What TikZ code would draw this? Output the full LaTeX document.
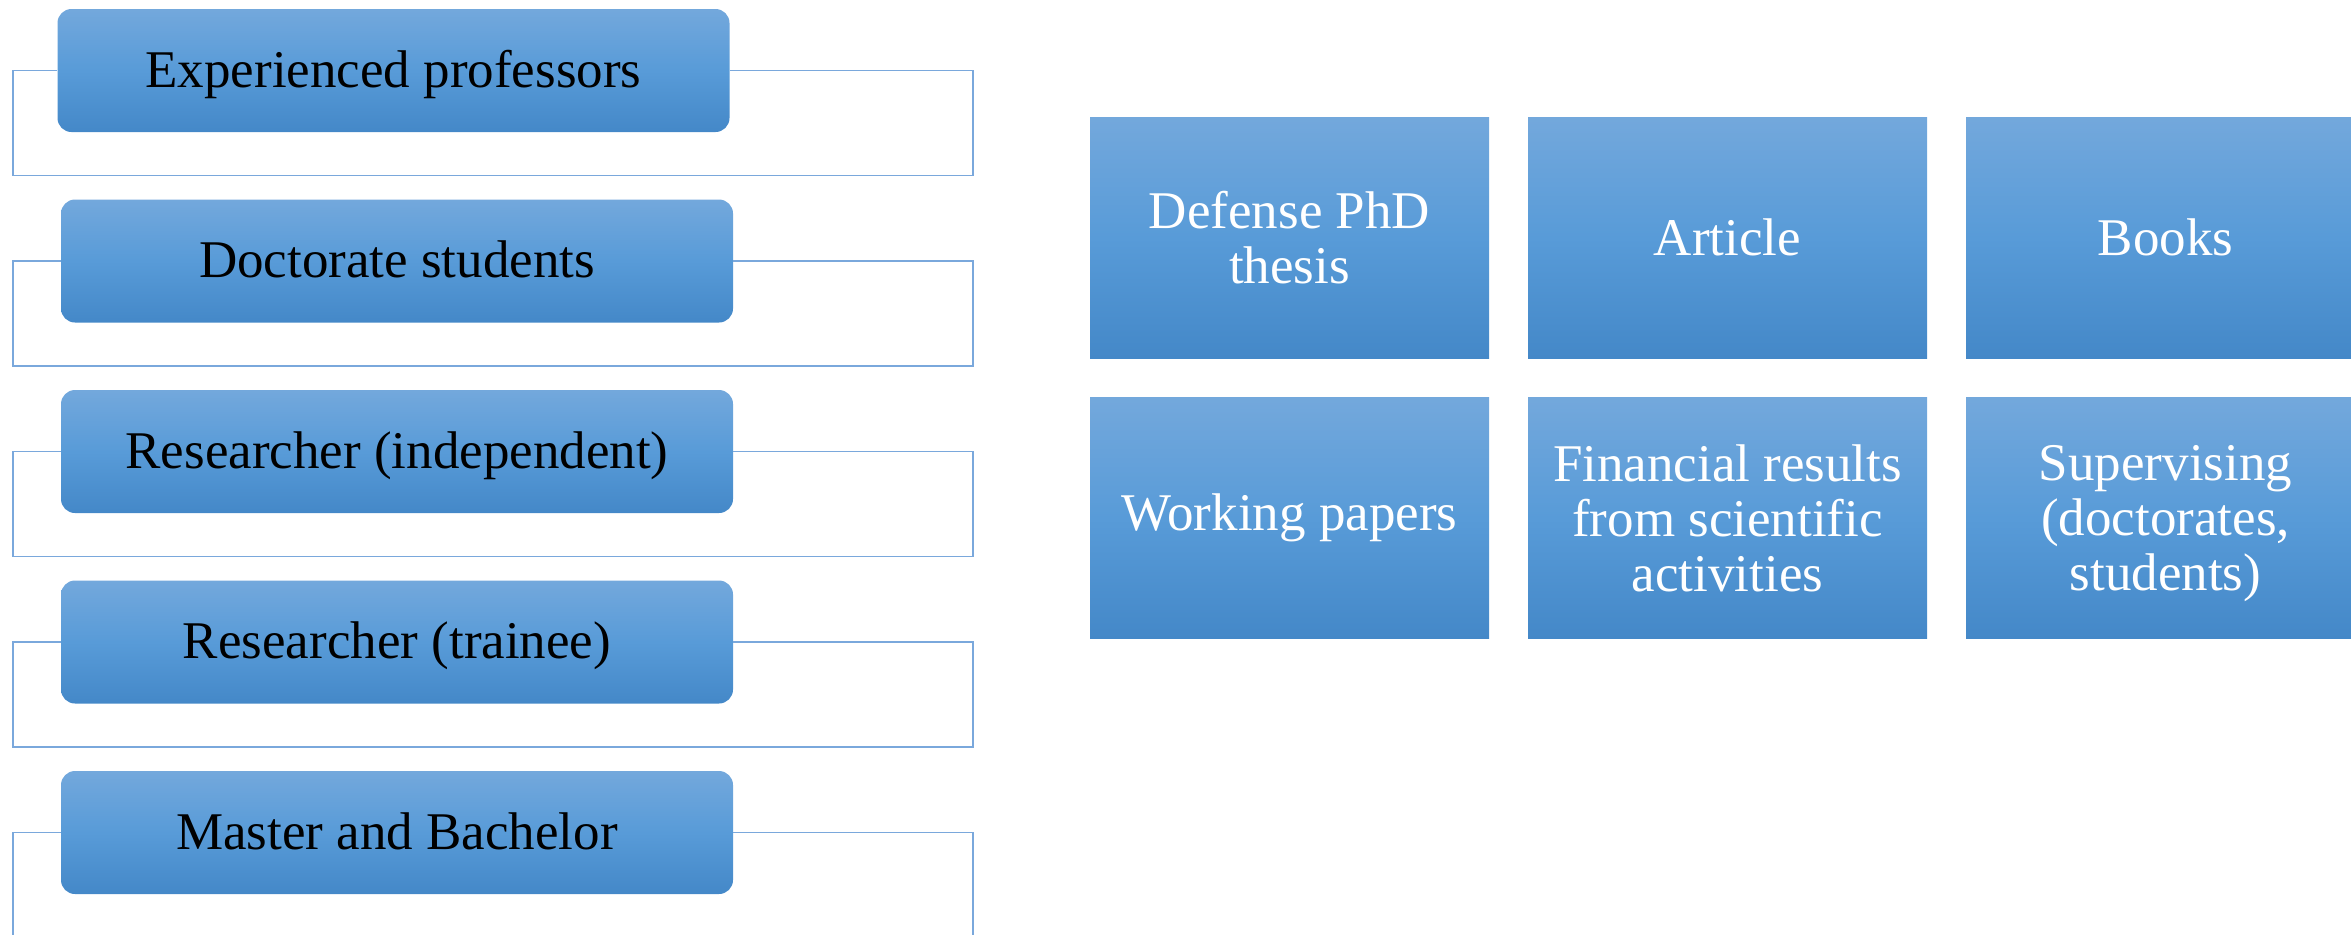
\documentclass[tikz,border=0pt]{standalone}
\usepackage{fontspec}
\setmainfont{Liberation Serif}
\definecolor{gtop}{RGB}{115,168,220}
\definecolor{gmid}{RGB}{88,155,216}
\definecolor{gbot}{RGB}{68,136,200}
\definecolor{lineblue}{RGB}{122,168,220}
\begin{document}
\begin{tikzpicture}[x=0.5pt,y=-0.5pt,
  person/.style={rounded corners=7pt, top color=gtop, bottom color=gbot, middle color=gmid,
    draw=none, minimum width=336pt, minimum height=61.5pt, inner sep=0pt,
    text height=20pt, text depth=3.5pt,
    font=\fontsize{26.5}{27.5}\selectfont, text=black},
  outbox/.style={top color=gtop, bottom color=gbot, middle color=gmid,
    draw=none, minimum width=199.5pt, minimum height=120.5pt, inner sep=0pt, align=center,
    font=\fontsize{26.5}{27.5}\selectfont, text=white},
  bracket/.style={draw=lineblue, line width=0.8pt}]
\useasboundingbox (0,0) rectangle (2351,934);
% left column
\node[person] (p1) at (393.5,70.5) {Experienced professors};
\node[person] (p2) at (397,261) {Doctorate students};
\node[person] (p3) at (397,451.5) {Researcher (independent)};
\node[person] (p4) at (397,642) {Researcher (trainee)};
\node[person] (p5) at (397,832.5) {Master and Bachelor};
\foreach \n/\y in {p1/70.5,p2/261,p3/451.5,p4/642,p5/832.5}{
  \coordinate (\n bl) at (13,\y+105);
  \coordinate (\n tr) at (973,\y);
  \draw[bracket] (\n.west) -| (\n bl) -| (\n tr) -- (\n.east);
}
% right grid
\node[outbox] (o1) at (1289.5,237.5) {Defense PhD\\thesis};
\node[outbox] (o2) at (1727.5,237.5) {Article};
\node[outbox] (o3) at (2165.5,237.5) {Books};
\node[outbox] (o4) at (1289.5,518) {Working papers};
\node[outbox] (o5) at (1727.5,518) {Financial results\\from scientific\\activities};
\node[outbox] (o6) at (2165.5,518) {Supervising\\(doctorates,\\students\smash{)}};
\end{tikzpicture}
\end{document}
